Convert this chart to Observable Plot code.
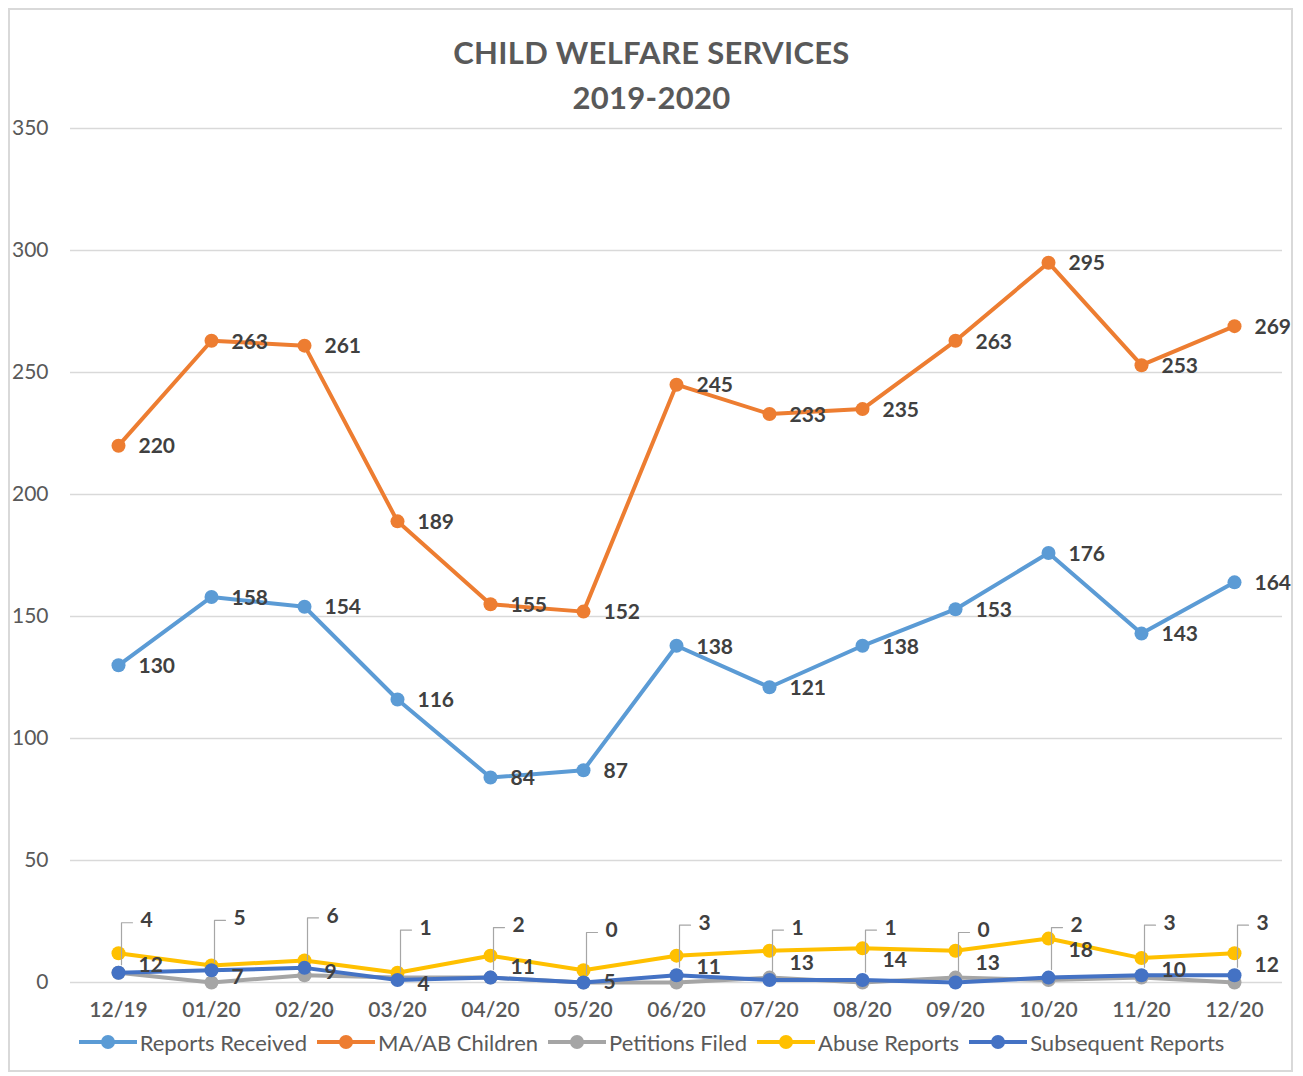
<!DOCTYPE html>
<html>
<head>
<meta charset="utf-8">
<script src="https://cdn.jsdelivr.net/npm/d3@7"></script>
<script src="https://cdn.jsdelivr.net/npm/@observablehq/plot@0.6"></script>
<style>
  html, body { margin: 0; padding: 0; background: #fff; }
  body { width: 1303px; height: 1076px; position: relative; overflow: hidden; font-family: Lato, "Noto Sans", sans-serif; }
  #frame { position: absolute; left: 8px; top: 8px; width: 1285px; height: 1064px; border: 2px solid #d9d9d9; box-sizing: border-box; }
  #title { position: absolute; left: 0; top: 30px; width: 1303px; text-align: center; font-size: 31px; font-weight: bold; color: #595959; line-height: 45px; letter-spacing: 0.3px; }
  #chart { position: absolute; left: 0; top: 110px; }
  #legend { position: absolute; left: 0; top: 1028px; width: 1303px; height: 28px; display: flex; justify-content: center; align-items: center; gap: 10px; font-size: 22px; color: #595959; }
  .item { display: flex; align-items: center; gap: 3px; }
  #chart svg g[aria-label="y-axis tick label"] text { font-size: 21px; fill: #595959; }
  #chart svg g[aria-label="x-axis tick label"] text { font-size: 21px; font-weight: 600; fill: #595959; }
</style>
</head>
<body>
<div id="frame"></div>
<div id="title">CHILD WELFARE SERVICES<br>2019-2020</div>
<div id="chart"></div>
<div id="legend"></div>
<script>
const months = ["12/19","01/20","02/20","03/20","04/20","05/20","06/20","07/20","08/20","09/20","10/20","11/20","12/20"];
const reportsReceived = [130,158,154,116,84,87,138,121,138,153,176,143,164];
const maabChildren = [220,263,261,189,155,152,245,233,235,263,295,253,269];
const petitionsFiled = [4,0,3,2,2,0,0,2,0,2,1,2,0];
const abuseReports = [12,7,9,4,11,5,11,13,14,13,18,10,12];
const subsequentReports = [4,5,6,1,2,0,3,1,1,0,2,3,3];
const seriesNames = ["Reports Received","MA/AB Children","Petitions Filed","Abuse Reports","Subsequent Reports"];
const seriesColors = ["#5B9BD5","#ED7D31","#A5A5A5","#FFC000","#4472C4"];
const seriesValues = [reportsReceived, maabChildren, petitionsFiled, abuseReports, subsequentReports];
const labeled = [true, true, false, true, true];
const yTicks = [0,50,100,150,200,250,300,350];

const series = seriesNames.map((name, i) => ({
  name, color: seriesColors[i], labeled: labeled[i],
  data: months.map((m, j) => ({month: m, value: seriesValues[i][j], series: name}))
}));

const labelStyle = {textAnchor: "start", fontSize: 21, fontWeight: "bold", fill: "#404040"};

const marks = [
  Plot.gridY(yTicks, {stroke: "#d9d9d9", strokeOpacity: 1, strokeWidth: 1.3}),
  Plot.axisY(yTicks, {tickSize: 0, tickPadding: 22, label: null}),
  Plot.axisX({tickSize: 0, tickPadding: 20, label: null})
];
series.forEach(s => {
  marks.push(Plot.line(s.data, {x: "month", y: "value", stroke: s.color, strokeWidth: 4}));
  marks.push(Plot.dot(s.data, {x: "month", y: "value", fill: s.color, r: 7}));
});
// callout leader lines for Subsequent Reports labels
const calloutShape = {
  draw(context, l) {
    context.moveTo(3, -8);
    context.lineTo(3, -l);
    context.lineTo(14, -l);
  }
};
series.forEach(s => {
  if (!s.labeled) return;
  if (s.name === "Subsequent Reports") {
    marks.push(Plot.vector(s.data, {x: "month", y: "value", length: 50, rotate: 0, anchor: "start",
      shape: calloutShape, stroke: "#a6a6a6", strokeWidth: 1.2}));
    marks.push(Plot.text(s.data, {x: "month", y: "value", text: d => String(d.value), dx: 22, dy: -52, ...labelStyle}));
  } else if (s.name === "Abuse Reports") {
    marks.push(Plot.text(s.data, {x: "month", y: "value", text: d => String(d.value), dx: 20, dy: 12, ...labelStyle}));
  } else {
    marks.push(Plot.text(s.data, {x: "month", y: "value", text: d => String(d.value), dx: 20, dy: 1, ...labelStyle}));
  }
});

const chart = Plot.plot({
  width: 1303, height: 920,
  marginLeft: 70, marginRight: 21, marginTop: 18, marginBottom: 48,
  x: {type: "point", domain: months, padding: 0.5},
  y: {domain: [0, 350]},
  style: {fontFamily: "Lato, 'Noto Sans', sans-serif", color: "#595959", background: "transparent"},
  marks
});
document.getElementById("chart").appendChild(chart);

const legend = document.getElementById("legend");
series.forEach(s => {
  const item = document.createElement("div");
  item.className = "item";
  item.innerHTML = `<svg width="58" height="20"><line x1="0" y1="10" x2="58" y2="10" stroke="${s.color}" stroke-width="4"/><circle cx="29" cy="10" r="7" fill="${s.color}"/></svg><span>${s.name}</span>`;
  legend.appendChild(item);
});
</script>
</body>
</html>
